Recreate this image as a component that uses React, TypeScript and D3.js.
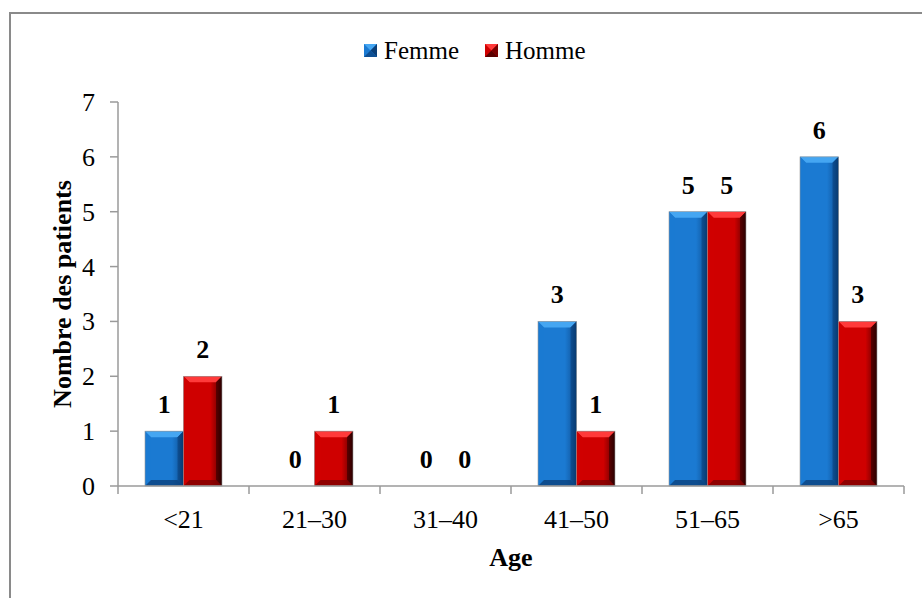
import React from "react";
import * as d3 from "d3";

const categories = ["<21", "21–30", "31–40", "41–50", "51–65", ">65"];
const femme = [1, 0, 0, 3, 5, 6];
const homme = [2, 1, 0, 1, 5, 3];
const yTicks = [0, 1, 2, 3, 4, 5, 6, 7];
const seriesNames = ["Femme", "Homme"];

const W = 922;
const H = 598;
const left = 118;
const right = 904;
const top = 102;
const bottom = 486;

const palette = {
  Femme: { face: "#1b7ad2", light: "#45a6f2", side: "#0e4f93", dark: "#0b3f78" },
  Homme: { face: "#cf0000", light: "#ff3a3a", side: "#5a0000", dark: "#7a0000" },
};

const serif = "'Liberation Serif'";
const txt = (size: number, bold = false): React.CSSProperties => ({
  fontFamily: serif,
  fontSize: size,
  fontWeight: bold ? "bold" : "normal",
});

function BevelBar({ x, y, w, h, c, id }: any) {
  if (h <= 0) return null;
  const b = Math.min(6, h / 2, w / 2);
  const x0 = x, x1 = x + w, y0 = y, y1 = y + h;
  return (
    <g>
      <rect x={x0} y={y0} width={w} height={h} fill={`url(#face-${id})`} />
      <polygon points={`${x0},${y0} ${x1},${y0} ${x1 - b},${y0 + b} ${x0 + b},${y0 + b}`} fill={c.light} />
      <polygon points={`${x0},${y0} ${x0 + b},${y0 + b} ${x0 + b},${y1 - b} ${x0},${y1}`} fill={c.face} opacity={0.9} />
      <polygon points={`${x1},${y0} ${x1},${y1} ${x1 - b},${y1 - b} ${x1 - b},${y0 + b}`} fill={`url(#side-${id})`} />
      <polygon points={`${x0},${y1} ${x0 + b},${y1 - b} ${x1 - b},${y1 - b} ${x1},${y1}`} fill={c.dark} opacity={0.75} />
      <rect x={x0} y={y0} width={w} height={h} fill="none" stroke="#9a9a9a" strokeWidth={0.6} />
    </g>
  );
}

export default function App() {
  const x = d3.scaleBand<string>().domain(categories).range([left, right]).paddingInner(0).paddingOuter(0);
  const bw = x.bandwidth();
  const inner = d3.scaleBand<string>().domain(seriesNames).range([27, bw - 27]).padding(0);
  const y = d3.scaleLinear().domain([0, 7]).range([bottom, top]);
  const series = [
    { name: "Femme", values: femme },
    { name: "Homme", values: homme },
  ];

  return (
    <svg width={W} height={H} style={{ position: "absolute", left: 0, top: 0, background: "#fff" }}>
      <defs>
        {seriesNames.map((n) => {
          const c = (palette as any)[n];
          return (
            <g key={n}>
              <linearGradient id={`face-${n}`} x1="0" y1="0" x2="1" y2="0">
                <stop offset="0" stopColor={c.face} />
                <stop offset="0.7" stopColor={c.face} />
                <stop offset="1" stopColor={c.side} />
              </linearGradient>
              <linearGradient id={`side-${n}`} x1="0" y1="0" x2="1" y2="0">
                <stop offset="0" stopColor={c.side} />
                <stop offset="1" stopColor={n === "Homme" ? "#2a0000" : "#083a70"} />
              </linearGradient>
            </g>
          );
        })}
      </defs>

      {/* outer frame */}
      <rect x={10} y={13} width={W + 20} height={H + 20} fill="none" stroke="#8a8a8a" strokeWidth={2} />

      {/* legend */}
      {seriesNames.map((n, i) => {
        const lx = i === 0 ? 364 : 485;
        const s = 13;
        const c = (palette as any)[n];
        return (
          <g key={n}>
            <rect x={lx} y={44} width={s} height={s} fill={c.face} />
            <polygon points={`${lx},${44} ${lx + s},${44} ${lx + s / 2},${44 + s / 2}`} fill={c.light} />
            <polygon points={`${lx + s},${44} ${lx + s},${44 + s} ${lx + s / 2},${44 + s / 2}`} fill={c.dark} />
            <polygon points={`${lx},${44 + s} ${lx + s},${44 + s} ${lx + s / 2},${44 + s / 2}`} fill={c.side} />
            <text x={lx + 20} y={59} style={txt(25)}>{n}</text>
          </g>
        );
      })}

      {/* bars */}
      {series.map((s) => (
        <g key={s.name}>
          {s.values.map((v, i) => {
            const bx = (x(categories[i]) as number) + (inner(s.name) as number);
            return (
              <BevelBar key={i} x={bx} y={y(v)} w={inner.bandwidth()} h={y(0) - y(v)} c={(palette as any)[s.name]} id={s.name} />
            );
          })}
        </g>
      ))}

      {/* value labels */}
      {series.map((s) =>
        s.values.map((v, i) => {
          const cx = (x(categories[i]) as number) + (inner(s.name) as number) + inner.bandwidth() / 2;
          return (
            <text key={s.name + i} x={cx} y={y(v) - 18} textAnchor="middle" style={txt(26, true)}>{v}</text>
          );
        })
      )}

      {/* y axis */}
      <line x1={left} x2={left} y1={top} y2={bottom} stroke="#9a9a9a" strokeWidth={1.5} />
      {yTicks.map((t) => (
        <g key={t}>
          <line x1={left - 8} x2={left} y1={y(t)} y2={y(t)} stroke="#9a9a9a" strokeWidth={1.5} />
          <text x={left - 23} y={y(t) + 9} textAnchor="end" style={txt(26)}>{t}</text>
        </g>
      ))}

      {/* x axis */}
      <line x1={left} x2={right} y1={bottom} y2={bottom} stroke="#9a9a9a" strokeWidth={1.5} />
      {d3.range(categories.length + 1).map((i) => {
        const tx = left + i * bw;
        return <line key={i} x1={tx} x2={tx} y1={bottom} y2={bottom + 8} stroke="#9a9a9a" strokeWidth={1.5} />;
      })}
      {categories.map((c) => (
        <text key={c} x={(x(c) as number) + bw / 2} y={528} textAnchor="middle" style={txt(26)}>{c}</text>
      ))}

      {/* axis titles */}
      <text x={(left + right) / 2} y={566} textAnchor="middle" style={txt(26, true)}>Age</text>
      <text transform={`translate(71, ${(top + bottom) / 2}) rotate(-90)`} textAnchor="middle" style={txt(26, true)}>Nombre des patients</text>
    </svg>
  );
}
